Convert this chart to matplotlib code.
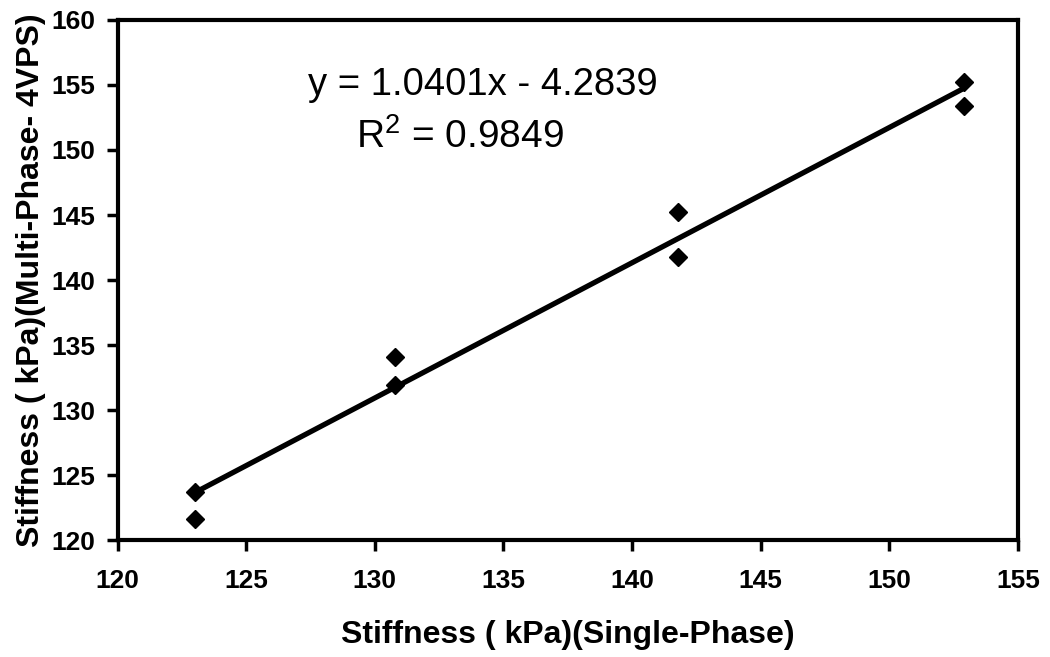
import matplotlib
matplotlib.use("Agg")
import matplotlib.pyplot as plt
import numpy as np

# Data
single_phase = [123.0, 123.0, 130.8, 130.8, 141.8, 141.8, 152.9, 152.9]
multi_phase = [123.7, 121.6, 134.1, 131.9, 145.2, 141.8, 155.2, 153.4]
slope = 1.0401
intercept = -4.2839
r_squared = 0.9849
x_ticks = [120, 125, 130, 135, 140, 145, 150, 155]
y_ticks = [120, 125, 130, 135, 140, 145, 150, 155, 160]

plt.rcParams['font.family'] = ['Liberation Sans', 'DejaVu Sans']
plt.rcParams['mathtext.fontset'] = 'custom'
plt.rcParams['mathtext.rm'] = 'Liberation Sans'

fig = plt.figure(figsize=(10.5, 6.57), dpi=100)
ax = fig.add_axes([0.112, 0.178, 0.8575, 0.7916])

xs = np.array([min(single_phase), max(single_phase)])
ax.plot(xs, slope * xs + intercept, color='black', lw=3.8, solid_capstyle='round', zorder=2)
ax.plot(single_phase, multi_phase, linestyle='none', marker='D', color='black',
        markersize=9.5, zorder=3)

ax.set_xlim(120, 155)
ax.set_ylim(120, 160)
ax.set_xticks(x_ticks)
ax.set_yticks(y_ticks)
ax.set_xticklabels([str(t) for t in x_ticks], fontsize=19, fontweight='bold')
ax.set_yticklabels([str(t) for t in y_ticks], fontsize=19, fontweight='bold')
ax.tick_params(direction='out', length=8, width=2.5)
ax.tick_params(axis='x', pad=13)
ax.tick_params(axis='y', pad=8)
for s in ax.spines.values():
    s.set_linewidth(3)

ax.set_xlabel('Stiffness ( kPa)(Single-Phase)', fontsize=23, fontweight='bold', labelpad=19)
ax.set_ylabel('Stiffness ( kPa)(Multi-Phase- 4VPS)', fontsize=23, fontweight='bold', labelpad=4)

sign = '-' if intercept < 0 else '+'
ax.text(134.2, 155.0, f'y = {slope:.4f}x {sign} {abs(intercept):.4f}', fontsize=27.5,
        ha='center', va='center')
ax.text(133.3, 151.0, f'R$^{{2}}$ = {r_squared:.4f}', fontsize=28, ha='center', va='center')

fig.savefig('out.png', dpi=100)
